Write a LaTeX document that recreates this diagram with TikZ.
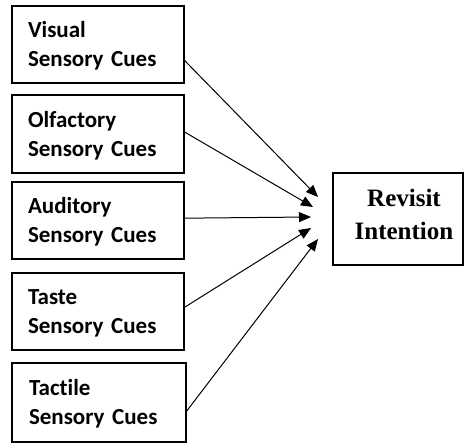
\documentclass[tikz,border=0pt]{standalone}
\usepackage{fontspec}
\setmainfont{Liberation Serif}
\newfontfamily\cuefont[Ligatures=NoCommon]{Carlito}
\usetikzlibrary{arrows.meta,calc}
\begin{document}
\begin{tikzpicture}[x=1pt,y=-1pt,
  cue/.style={draw,line width=2pt,outer sep=0pt,anchor=north west,
    minimum width=172pt,minimum height=77pt,text width=140pt,inner xsep=16pt,inner ysep=0pt,
    text height=27pt,text depth=40pt,align=left,
    font=\cuefont\bfseries\fontsize{23}{29}\selectfont},
  rvbox/.style={draw,line width=2pt,outer sep=0pt,anchor=north west,
    minimum width=130pt,minimum height=92pt,inner sep=0pt},
  rvtext/.style={anchor=base,text width=120pt,align=center,inner sep=0pt,
    font=\bfseries\fontsize{25}{32.5}\selectfont},
  arr/.style={line width=1pt,-{Triangle[length=12pt,width=10pt]}}]
\useasboundingbox (0,0) rectangle (464,443);
\node[cue] (b1) at (12,6) {Visual\\Sensory Cues};
\node[cue,minimum height=78pt] (b2) at (12,95) {Olfactory\\Sensory Cues};
\node[cue] (b3) at (12,182) {Auditory\\Sensory Cues};
\node[cue] (b4) at (12,273) {Taste\\Sensory Cues};
\node[cue,minimum width=174pt,minimum height=79pt] (b5) at (12,363) {Tactile\\Sensory Cues};
\node[rvbox] (rv) at (333,173) {};
\node[rvtext] (rvt) at (404,207) {Revisit\\Intention};
\coordinate (t1) at (318,197);
\coordinate (t2) at (313,207);
\coordinate (t3) at (311,217);
\coordinate (t4) at (311,228);
\coordinate (t5) at (318,239);
\draw[arr] ($(b1.north east)!0.70!(b1.south east)$) -- (t1);
\draw[arr] ($(b2.north east)!0.47!(b2.south east)$) -- (t2);
\draw[arr] ($(b3.north east)!0.47!(b3.south east)$) -- (t3);
\draw[arr] ($(b4.north east)!0.45!(b4.south east)$) -- (t4);
\draw[arr] ($(b5.north east)!0.62!(b5.south east)$) -- (t5);
\end{tikzpicture}
\end{document}
